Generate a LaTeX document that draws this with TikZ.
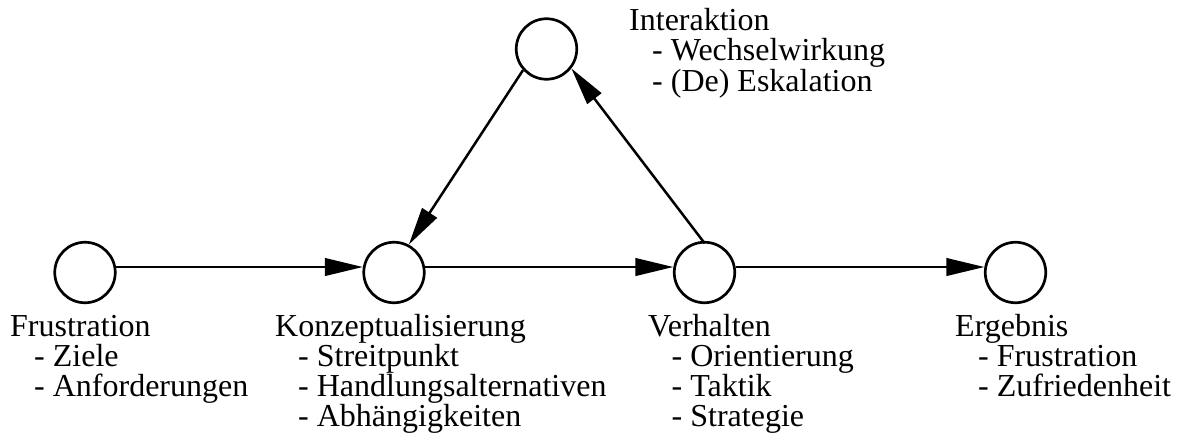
\documentclass[tikz,border=0pt]{standalone}
\usepackage{fontspec}
\setmainfont{Liberation Serif}
\usetikzlibrary{arrows.meta}
\begin{document}
\begin{tikzpicture}[x=1pt,y=-1pt,
  state/.style={circle,draw,line width=2.7pt,minimum size=60.5pt,inner sep=0pt},
  conn/.style={line width=2.5pt,-{Triangle[length=38pt,width=17.5pt]}},
  lbl/.style={anchor=base west,inner sep=0pt,font=\fontsize{32}{30}\selectfont}]
\useasboundingbox (0,0) rectangle (1180,436);
% states
\node[state] (F) at (85,272.5) {};
\node[state] (K) at (394,272.5) {};
\node[state] (V) at (704.5,272.5) {};
\node[state] (E) at (1015.5,272.5) {};
\node[state] (I) at (546.5,49) {};
% connectors
\draw[conn] (F.10) -- (K.170);
\draw[conn] (K.10) -- (V.170);
\draw[conn] (V.10) -- (E.170);
\draw[conn] (I.-138) -- (K.62.6);
\draw[conn,shorten <=-3pt] (V.93) -- (I.-38.6);
% labels
\node[lbl] (f0) at (10,336) {Frustration};
\node[lbl] (f1) at (34,366) {- Ziele};
\node[lbl] (f2) at (34,396) {- Anforderungen};
\node[lbl] (k0) at (275,336) {Konzeptualisierung};
\node[lbl] (k1) at (298,366) {- Streitpunkt};
\node[lbl] (k2) at (298,396) {- Handlungsalternativen};
\node[lbl] (k3) at (298,426) {- Abhängigkeiten};
\node[lbl] (v0) at (648,336) {Verhalten};
\node[lbl] (v1) at (671.5,366) {- Orientierung};
\node[lbl] (v2) at (671.5,396) {- Taktik};
\node[lbl] (v3) at (671.5,426) {- Strategie};
\node[lbl] (e0) at (955,336) {Ergebnis};
\node[lbl] (e1) at (978,366) {- Frustration};
\node[lbl] (e2) at (978,396) {- Zufriedenheit};
\node[lbl] (i0) at (629,31) {Interaktion};
\node[lbl] (i1) at (652,61) {- Wechselwirkung};
\node[lbl] (i2) at (652,91) {- (De) Eskalation};
\end{tikzpicture}
\end{document}
